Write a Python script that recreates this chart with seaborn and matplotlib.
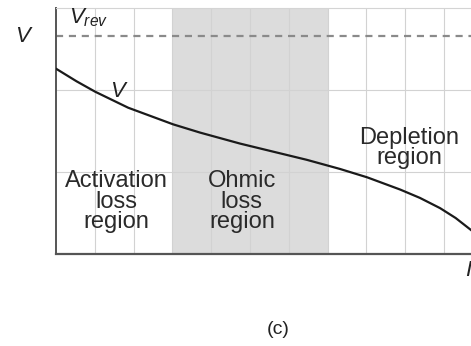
import matplotlib
matplotlib.use("Agg")
import matplotlib.pyplot as plt
import seaborn as sns
import pandas as pd

# Polarisation curve: cell voltage vs. current (arbitrary units)
current = [0.0, 0.53, 1.01, 1.86, 3.02, 3.71, 4.74, 5.59, 6.46, 7.32,
           8.02, 8.87, 9.38, 9.90, 10.30, 10.70, 10.90]
voltage = [2.26, 2.106, 1.979, 1.784, 1.581, 1.481, 1.347, 1.249, 1.149,
           1.037, 0.935, 0.786, 0.684, 0.559, 0.439, 0.291, 0.207]
v_rev = 2.66

region_labels = ["Activation\nloss\nregion", "Ohmic\nloss\nregion", "Depletion\nregion"]
region_x = [1.55, 4.79, 9.1]
region_y = [0.64, 0.64, 1.29]
ohmic_span = (3, 7)

sns.set_theme(style="white")
plt.rcParams["font.family"] = ["Liberation Sans", "DejaVu Sans"]
plt.rcParams["mathtext.fontset"] = "custom"
plt.rcParams["mathtext.it"] = "Liberation Sans:italic"
plt.rcParams["mathtext.rm"] = "Liberation Sans"

W, H = 471, 346
fig = plt.figure(figsize=(W / 100, H / 100), dpi=100)
left_px, right_px, top_px, bottom_px = 56, 482.8, 8, 254
ax = fig.add_axes([left_px / W, (H - bottom_px) / H,
                   (right_px - left_px) / W, (bottom_px - top_px) / H])

ax.set_xlim(0, 11)
ax.set_ylim(0, 3)

# shaded ohmic region
ax.axvspan(*ohmic_span, color="#dcdcdc", lw=0, zorder=0)

# grid
for gx in range(1, 11):
    ax.axvline(gx, color="#d2d2d2", lw=0.8, zorder=1)
for gy in range(1, 3):
    ax.axhline(gy, color="#d2d2d2", lw=0.8, zorder=1)

df = pd.DataFrame({"I": current, "V": voltage})
sns.lineplot(data=df, x="I", y="V", ax=ax, color="#1a1a1a", lw=1.6,
             sort=False, estimator=None, zorder=3)

rev = pd.DataFrame({"I": [0, 11], "V": [v_rev, v_rev]})
sns.lineplot(data=rev, x="I", y="V", ax=ax, color="#8a8a8a", lw=1.6,
             linestyle=(0, (3.2, 2.6)), estimator=None, zorder=2)

ax.set_xticks([])
ax.set_yticks([])
ax.set_xlabel("")
ax.set_ylabel("")
for side in ["top", "right"]:
    ax.spines[side].set_color("#d4d4d4")
    ax.spines[side].set_linewidth(0.8)
ax.spines["left"].set_color("#555555")
ax.spines["left"].set_linewidth(1.4)
ax.spines["bottom"].set_color("#555555")
ax.spines["bottom"].set_linewidth(1.6)

for txt, x, y in zip(region_labels, region_x, region_y):
    ax.text(x, y, txt, ha="center", va="center", fontsize=17,
            color="#2a2a2a", linespacing=0.9, zorder=4)

ax.text(1.58, 1.98, "V", style="italic", fontsize=16, color="#222222",
        ha="center", va="center", zorder=4)
ax.text(0.33, 2.88, r"$V_{rev}$", fontsize=16, color="#222222",
        ha="left", va="center", zorder=4)

fig.text(23 / W, 1 - 36 / H, "V", style="italic", fontsize=16,
         color="#222222", ha="center", va="center")
fig.text(471 / W, 1 - 271 / H, "I", style="italic", fontsize=16,
         color="#222222", ha="right", va="center")
fig.text(278 / W, 1 - 330 / H, "(c)", fontsize=14, color="#222222",
         ha="center", va="center")

fig.savefig("out.png", dpi=100)
